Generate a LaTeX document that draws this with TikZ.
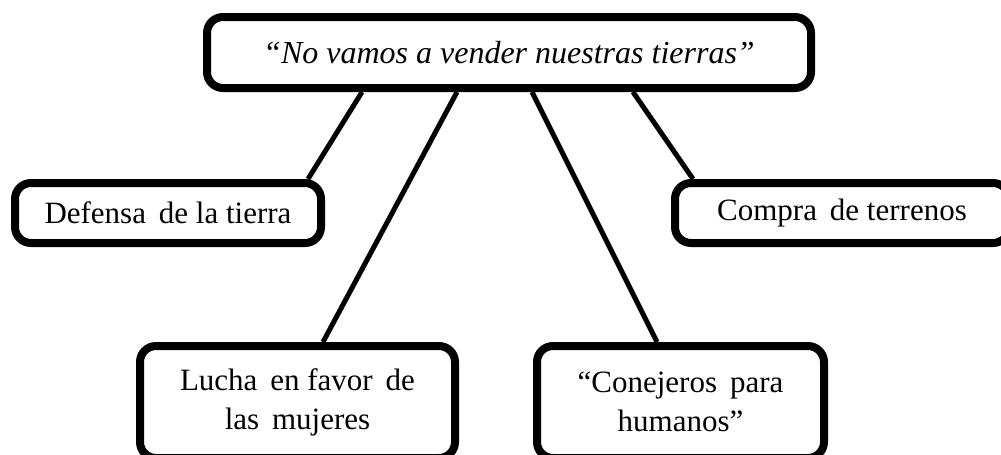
\documentclass[tikz,border=0pt]{standalone}
\usepackage{fontspec}
\setmainfont{Liberation Serif}
\usetikzlibrary{backgrounds}
\tikzset{
  box/.style={draw=black, fill=white, line width=8pt, rounded corners=16pt,
    align=center, inner sep=0pt, font=\fontsize{31}{39}\selectfont},
  link/.style={draw=black, line width=5pt}
}
\begin{document}
\begin{tikzpicture}[x=1pt,y=-1pt]
\useasboundingbox (0,0) rectangle (1001,455);
\clip (0,0) rectangle (1001,455);
\node[box, minimum width=604pt, minimum height=71pt, font=\fontsize{32}{39}\selectfont] (top) at (509,52.5) {\itshape “No vamos a vender nuestras tierras”};
\node[box, minimum width=306pt, minimum height=60pt] (def) at (168,213) {Defensa\, de la tierra};
\node[box, minimum width=334pt, minimum height=60pt] (com) at (842,213) {Compra\, de terrenos};
\node[box, minimum width=315pt, minimum height=112pt] (luc) at (297.5,402) {Lucha\, en favor\, de\\las\, mujeres};
\node[box, minimum width=287pt, minimum height=112pt] (con) at (680.5,402) {“Conejeros\, para\\humanos”};
\begin{scope}[on background layer]
\fill[white] (0,0) rectangle (1001,455);
\draw[link] ([xshift=-147pt]top.south) -- ([xshift=140pt]def.north);
\draw[link] ([xshift=-52pt]top.south) -- ([xshift=25.5pt]luc.north);
\draw[link] ([xshift=23pt]top.south) -- ([xshift=-23.5pt]con.north);
\draw[link] ([xshift=124pt]top.south) -- ([xshift=-149pt]com.north);
\end{scope}
\end{tikzpicture}
\end{document}
